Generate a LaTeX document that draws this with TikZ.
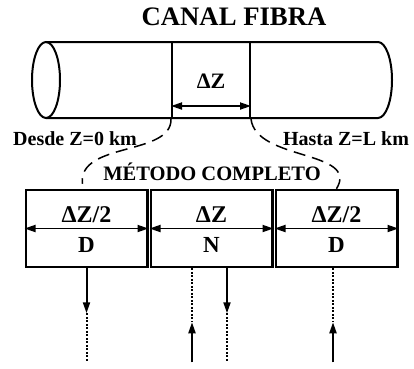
\documentclass[tikz,border=0pt]{standalone}
\usepackage{fontspec}
\setmainfont{Liberation Serif}
\usetikzlibrary{arrows.meta,positioning}

\begin{document}
\begin{tikzpicture}[x=1pt, y=-1pt, >={Triangle[length=11pt,width=7pt]}, line width=2pt,
  cell/.style={draw, line width=2.5pt, minimum width=121.5pt, minimum height=77pt, inner sep=0pt},
  dim/.style={<->, line width=1.8pt},
  link/.style={line width=1.5pt, dash pattern=on 12pt off 7pt},
  flow/.style={->, line width=2pt},
  back/.style={line width=2pt, dash pattern=on 2pt off 1.5pt},
  ttl/.style={anchor=base, font=\fontsize{26.7}{30}\selectfont\bfseries},
  side/.style={anchor=base, font=\fontsize{20}{24}\selectfont\bfseries},
  lab/.style={anchor=base, font=\fontsize{24}{27}\selectfont\bfseries},
  kind/.style={anchor=base, font=\fontsize{23}{26}\selectfont\bfseries}]
\useasboundingbox (0,0) rectangle (414,368);

\node[ttl] (title) at (234,25) {CANAL FIBRA};

% fibra
\draw (46,80) ellipse [x radius=14, y radius=38];
\draw (46,42) -- (378,42) arc[start angle=-90, end angle=90, x radius=14, y radius=38] -- (46,118);
\node[draw, minimum width=78pt, minimum height=76pt, inner sep=0pt] (seg) at (211,80) {};
\node[side, font=\fontsize{22}{25}\selectfont\bfseries] (dz) at (211,88) {ΔZ};
\draw[dim] ([yshift=-26pt]seg.west) -- ([yshift=-26pt]seg.east);

\node[side] (desde) at (75,145) {Desde Z=0 km};
\node[side] (hasta) at (346,145) {Hasta Z=L km};
\node[side, font=\fontsize{20.5}{24}\selectfont\bfseries] (metodo) at (212,180) {MÉTODO COMPLETO};

% metodo completo
\node[cell] (bD1) at (86.5,228.5) {};
\node[cell, right=1pt of bD1] (bN) {};
\node[cell, right=1pt of bN] (bD2) {};

\draw[dim] (bD1.west) -- (bD1.east)
  node[midway, lab, yshift=6.5pt] {ΔZ/2} node[midway, kind, yshift=-23.5pt] {D};
\draw[dim] (bN.west) -- (bN.east)
  node[midway, lab, yshift=6.5pt] {ΔZ} node[midway, kind, yshift=-23.5pt] {N};
\draw[dim] (bD2.west) -- (bD2.east)
  node[midway, lab, yshift=6.5pt] {ΔZ/2} node[midway, kind, yshift=-23.5pt] {D};

\draw[link] (seg.south west) .. controls +(1,37) and +(-5,-42) .. ([xshift=-4pt,yshift=5pt]bD1.north);
\draw[link] (seg.south east) .. controls +(5,42) and +(23.5,-38.75) .. (bD2.north);

% salidas
\coordinate (a1) at ([yshift=-45pt]bD1.south);
\coordinate (a1e) at ([yshift=-93pt]bD1.south);
\draw[flow] (bD1.south) -- (a1);
\draw[back] (a1) -- (a1e);

\coordinate (b1s) at ([xshift=-19.5pt]bN.south);
\coordinate (b1) at ([xshift=-19.5pt,yshift=-54pt]bN.south);
\coordinate (b1e) at ([xshift=-19.5pt,yshift=-94pt]bN.south);
\draw[back] (b1s) -- (b1);
\draw[flow] (b1e) -- (b1);

\coordinate (b2s) at ([xshift=15.5pt]bN.south);
\coordinate (b2) at ([xshift=15.5pt,yshift=-45pt]bN.south);
\coordinate (b2e) at ([xshift=15.5pt,yshift=-93pt]bN.south);
\draw[flow] (b2s) -- (b2);
\draw[back] (b2) -- (b2e);

\coordinate (c1s) at ([xshift=-3.5pt]bD2.south);
\coordinate (c1) at ([xshift=-3.5pt,yshift=-54pt]bD2.south);
\coordinate (c1e) at ([xshift=-3.5pt,yshift=-94pt]bD2.south);
\draw[back] (c1s) -- (c1);
\draw[flow] (c1e) -- (c1);
\end{tikzpicture}
\end{document}
